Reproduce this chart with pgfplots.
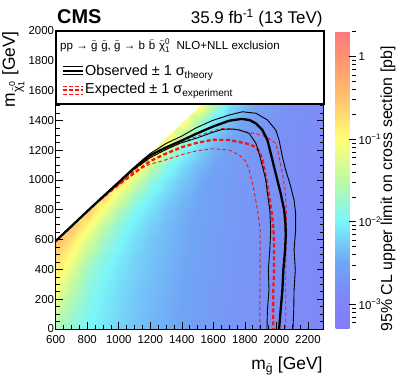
\documentclass[border=0pt]{standalone}
\usepackage{pgfplots}
\pgfplotsset{compat=1.18}
\usepackage{amsmath}
\usepackage{fontspec}
\setmainfont{Liberation Sans}

\definecolor{limred}{RGB}{245,20,20}
\newcommand{\sq}[1]{$\tilde{\text{#1}}$}

\begin{document}
\begin{tikzpicture}
\useasboundingbox (-55.7bp,-54bp) rectangle (343.3bp,329bp);
\begin{axis}[
  name=main, at={(0,0)}, anchor=south west,
  scale only axis, width=268bp, height=298bp,
  xmin=600, xmax=2300, ymin=0, ymax=2000,
  xtick={600,800,...,2200}, ytick={0,200,...,2000},
  minor x tick num=3, minor y tick num=3,
  tick align=inside, major tick length=7bp, minor tick length=4bp,
  tick style={black, line width=0.6bp},
  axis line style={line width=0.8bp},
  ticklabel style={font=\fontsize{11.5}{12}\selectfont},
  /pgf/number format/assume math mode=true,
  /pgf/number format/1000 sep={},
  xticklabel style={yshift=-3bp},
  yticklabel style={inner xsep=1.5bp},
  axis on top,
  % colour scale is log10 of the limit in pb
  colormap={cms}{rgb255(0)=(130,124,250) rgb255(40)=(128,135,248)
    rgb255(80)=(112,165,245) rgb255(130)=(122,245,250)
    rgb255(180)=(190,250,165) rgb255(230)=(255,255,120)
    rgb255(280)=(255,195,110) rgb255(330)=(255,145,110)
    rgb255(361)=(255,120,125)},
  point meta min=-3.30, point meta max=0.31,
  colorbar,
  colorbar style={
    at={(parent axis.north east)}, anchor=north west, xshift=3.3bp,
    width=20bp,
    ytick={-3,-2,-1,0},
    yticklabels={10\textsuperscript{−3},10\textsuperscript{−2},10\textsuperscript{−1},1},
    minor ytick={-3.222,-3.155,-3.097,-3.046,
      -2.699,-2.523,-2.398,-2.301,-2.222,-2.155,-2.097,-2.046,
      -1.699,-1.523,-1.398,-1.301,-1.222,-1.155,-1.097,-1.046,
      -0.699,-0.523,-0.398,-0.301,-0.222,-0.155,-0.097,-0.046,0.301},
    ytick pos=right, yticklabel pos=right,
    tick align=inside, major tick length=7bp, minor tick length=4bp,
    tick style={black, line width=0.6bp},
    axis line style={draw=none},
    yticklabel style={font=\fontsize{11.5}{12}\selectfont, inner xsep=3bp},
  },
]
% upper limit map, log10(sigma/pb), rows m_LSP = 0..1600, columns m_gluino = 600..2300
\addplot[surf, shader=interp, mesh/cols=18, point meta=explicit] coordinates {
(600,0)[-1.65] (700,0)[-1.8] (800,0)[-1.95] (900,0)[-2.08] (1000,0)[-2.2] (1100,0)[-2.3] (1200,0)[-2.38] (1300,0)[-2.45] (1400,0)[-2.52] (1500,0)[-2.58] (1600,0)[-2.63] (1700,0)[-2.68] (1800,0)[-2.72] (1900,0)[-2.76] (2000,0)[-2.8] (2100,0)[-2.84] (2200,0)[-2.87] (2300,0)[-2.9]
(600,100)[-1.45] (700,100)[-1.72] (800,100)[-1.93] (900,100)[-2.07] (1000,100)[-2.19] (1100,100)[-2.29] (1200,100)[-2.37] (1300,100)[-2.44] (1400,100)[-2.51] (1500,100)[-2.57] (1600,100)[-2.63] (1700,100)[-2.68] (1800,100)[-2.72] (1900,100)[-2.76] (2000,100)[-2.8] (2100,100)[-2.84] (2200,100)[-2.87] (2300,100)[-2.9]
(600,200)[-1.2] (700,200)[-1.6] (800,200)[-1.88] (900,200)[-2.05] (1000,200)[-2.17] (1100,200)[-2.28] (1200,200)[-2.36] (1300,200)[-2.43] (1400,200)[-2.5] (1500,200)[-2.57] (1600,200)[-2.62] (1700,200)[-2.67] (1800,200)[-2.71] (1900,200)[-2.75] (2000,200)[-2.79] (2100,200)[-2.83] (2200,200)[-2.87] (2300,200)[-2.9]
(600,300)[-1.0] (700,300)[-1.42] (800,300)[-1.8] (900,300)[-2.0] (1000,300)[-2.15] (1100,300)[-2.26] (1200,300)[-2.34] (1300,300)[-2.42] (1400,300)[-2.49] (1500,300)[-2.56] (1600,300)[-2.62] (1700,300)[-2.67] (1800,300)[-2.71] (1900,300)[-2.75] (2000,300)[-2.79] (2100,300)[-2.83] (2200,300)[-2.86] (2300,300)[-2.89]
(600,400)[-0.82] (700,400)[-1.22] (800,400)[-1.7] (900,400)[-1.95] (1000,400)[-2.1] (1100,400)[-2.23] (1200,400)[-2.32] (1300,400)[-2.41] (1400,400)[-2.48] (1500,400)[-2.55] (1600,400)[-2.61] (1700,400)[-2.66] (1800,400)[-2.7] (1900,400)[-2.75] (2000,400)[-2.79] (2100,400)[-2.83] (2200,400)[-2.86] (2300,400)[-2.89]
(600,500)[-0.65] (700,500)[-1.0] (800,500)[-1.5] (900,500)[-1.85] (1000,500)[-2.05] (1100,500)[-2.2] (1200,500)[-2.3] (1300,500)[-2.39] (1400,500)[-2.47] (1500,500)[-2.54] (1600,500)[-2.6] (1700,500)[-2.65] (1800,500)[-2.7] (1900,500)[-2.74] (2000,500)[-2.78] (2100,500)[-2.82] (2200,500)[-2.86] (2300,500)[-2.89]
(600,600)[-0.4] (700,600)[-0.75] (800,600)[-1.25] (900,600)[-1.68] (1000,600)[-1.97] (1100,600)[-2.15] (1200,600)[-2.28] (1300,600)[-2.38] (1400,600)[-2.46] (1500,600)[-2.53] (1600,600)[-2.59] (1700,600)[-2.65] (1800,600)[-2.69] (1900,600)[-2.74] (2000,600)[-2.78] (2100,600)[-2.82] (2200,600)[-2.85] (2300,600)[-2.88]
(600,700)[-0.4] (700,700)[-0.45] (800,700)[-0.9] (900,700)[-1.45] (1000,700)[-1.85] (1100,700)[-2.07] (1200,700)[-2.22] (1300,700)[-2.36] (1400,700)[-2.45] (1500,700)[-2.52] (1600,700)[-2.58] (1700,700)[-2.64] (1800,700)[-2.69] (1900,700)[-2.73] (2000,700)[-2.77] (2100,700)[-2.82] (2200,700)[-2.85] (2300,700)[-2.88]
(600,800)[-0.4] (700,800)[-0.45] (800,800)[-0.5] (900,800)[-1.05] (1000,800)[-1.6] (1100,800)[-1.95] (1200,800)[-2.13] (1300,800)[-2.3] (1400,800)[-2.43] (1500,800)[-2.51] (1600,800)[-2.57] (1700,800)[-2.63] (1800,800)[-2.68] (1900,800)[-2.73] (2000,800)[-2.77] (2100,800)[-2.81] (2200,800)[-2.85] (2300,800)[-2.88]
(600,900)[-0.4] (700,900)[-0.45] (800,900)[-0.5] (900,900)[-0.55] (1000,900)[-1.2] (1100,900)[-1.72] (1200,900)[-2.0] (1300,900)[-2.2] (1400,900)[-2.37] (1500,900)[-2.5] (1600,900)[-2.57] (1700,900)[-2.62] (1800,900)[-2.68] (1900,900)[-2.72] (2000,900)[-2.77] (2100,900)[-2.81] (2200,900)[-2.84] (2300,900)[-2.87]
(600,1000)[-0.4] (700,1000)[-0.45] (800,1000)[-0.5] (900,1000)[-0.55] (1000,1000)[-0.6] (1100,1000)[-1.3] (1200,1000)[-1.8] (1300,1000)[-2.07] (1400,1000)[-2.28] (1500,1000)[-2.44] (1600,1000)[-2.56] (1700,1000)[-2.62] (1800,1000)[-2.67] (1900,1000)[-2.72] (2000,1000)[-2.76] (2100,1000)[-2.8] (2200,1000)[-2.84] (2300,1000)[-2.87]
(600,1100)[-0.4] (700,1100)[-0.45] (800,1100)[-0.5] (900,1100)[-0.55] (1000,1100)[-0.6] (1100,1100)[-0.65] (1200,1100)[-1.38] (1300,1100)[-1.87] (1400,1100)[-2.14] (1500,1100)[-2.35] (1600,1100)[-2.5] (1700,1100)[-2.61] (1800,1100)[-2.67] (1900,1100)[-2.71] (2000,1100)[-2.76] (2100,1100)[-2.8] (2200,1100)[-2.84] (2300,1100)[-2.87]
(600,1200)[-0.4] (700,1200)[-0.45] (800,1200)[-0.5] (900,1200)[-0.55] (1000,1200)[-0.6] (1100,1200)[-0.65] (1200,1200)[-0.7] (1300,1200)[-1.45] (1400,1200)[-1.93] (1500,1200)[-2.2] (1600,1200)[-2.41] (1700,1200)[-2.55] (1800,1200)[-2.66] (1900,1200)[-2.71] (2000,1200)[-2.75] (2100,1200)[-2.8] (2200,1200)[-2.83] (2300,1200)[-2.86]
(600,1300)[-0.4] (700,1300)[-0.45] (800,1300)[-0.5] (900,1300)[-0.55] (1000,1300)[-0.6] (1100,1300)[-0.65] (1200,1300)[-0.7] (1300,1300)[-0.75] (1400,1300)[-1.5] (1500,1300)[-2.0] (1600,1300)[-2.27] (1700,1300)[-2.46] (1800,1300)[-2.6] (1900,1300)[-2.7] (2000,1300)[-2.75] (2100,1300)[-2.79] (2200,1300)[-2.83] (2300,1300)[-2.86]
(600,1400)[-0.4] (700,1400)[-0.45] (800,1400)[-0.5] (900,1400)[-0.55] (1000,1400)[-0.6] (1100,1400)[-0.65] (1200,1400)[-0.7] (1300,1400)[-0.75] (1400,1400)[-0.8] (1500,1400)[-1.56] (1600,1400)[-2.06] (1700,1400)[-2.32] (1800,1400)[-2.52] (1900,1400)[-2.64] (2000,1400)[-2.74] (2100,1400)[-2.79] (2200,1400)[-2.82] (2300,1400)[-2.86]
(600,1500)[-0.4] (700,1500)[-0.45] (800,1500)[-0.5] (900,1500)[-0.55] (1000,1500)[-0.6] (1100,1500)[-0.65] (1200,1500)[-0.7] (1300,1500)[-0.75] (1400,1500)[-0.8] (1500,1500)[-0.85] (1600,1500)[-1.62] (1700,1500)[-2.12] (1800,1500)[-2.38] (1900,1500)[-2.56] (2000,1500)[-2.68] (2100,1500)[-2.78] (2200,1500)[-2.82] (2300,1500)[-2.85]
(600,1600)[-0.4] (700,1600)[-0.45] (800,1600)[-0.5] (900,1600)[-0.55] (1000,1600)[-0.6] (1100,1600)[-0.65] (1200,1600)[-0.7] (1300,1600)[-0.75] (1400,1600)[-0.8] (1500,1600)[-0.85] (1600,1600)[-0.9] (1700,1600)[-1.68] (1800,1600)[-2.18] (1900,1600)[-2.43] (2000,1600)[-2.6] (2100,1600)[-2.72] (2200,1600)[-2.81] (2300,1600)[-2.85]
};
% kinematically forbidden region
\addplot[draw=none, fill=white] coordinates {(600,580) (2020,2000) (600,2000)};

% expected, -1 sigma experiment
\addplot[limred, line width=0.9bp, dash pattern=on 3.5bp off 2.5bp] coordinates {
(930,915) (1000,970) (1090,1052) (1196,1105) (1301,1136) (1406,1172) (1491,1195)
(1596,1210) (1701,1201) (1764,1168) (1806,1123) (1827,1067) (1848,978) (1865,888)
(1880,799) (1897,664) (1897,441) (1895,217) (1895,0)};
% expected, +1 sigma experiment
\addplot[limred, line width=0.9bp, dash pattern=on 3.5bp off 2.5bp] coordinates {
(900,888) (1000,982) (1100,1068) (1200,1150) (1300,1205) (1400,1252) (1500,1295)
(1600,1330) (1659,1346) (1730,1342) (1806,1324) (1870,1310) (1933,1291) (1996,1246)
(2017,1156) (2038,1045) (2055,933) (2063,799) (2063,664) (2060,500) (2059,329) (2059,0)};
% expected
\addplot[limred, line width=2.3bp, dash pattern=on 4bp off 2.5bp] coordinates {
(880,868) (950,928) (1006,975) (1090,1040) (1196,1125) (1301,1178) (1406,1222)
(1491,1248) (1596,1270) (1701,1268) (1806,1246) (1870,1222) (1895,1185) (1912,1134)
(1929,1045) (1943,955) (1958,866) (1971,776) (1982,664) (1985,530) (1985,396)
(1980,262) (1979,128) (1981,0)};
% observed, -1 sigma theory
\addplot[black, line width=0.9bp, line join=round] coordinates {
(900,887) (1000,984) (1090,1068) (1150,1112) (1200,1150) (1300,1205) (1385,1245)
(1491,1280) (1596,1320) (1659,1340) (1720,1342) (1764,1336) (1827,1313) (1870,1246)
(1890,1179) (1912,1089) (1933,1000) (1943,911) (1958,799) (1964,664) (1958,530)
(1949,396) (1953,262) (1943,128) (1940,0)};
% observed, +1 sigma theory
\addplot[black, line width=0.9bp, line join=round] coordinates {
(900,888) (1000,986) (1090,1077) (1150,1135) (1200,1178) (1300,1245) (1400,1295)
(1491,1350) (1596,1400) (1701,1436) (1785,1458) (1870,1448) (1943,1403) (1996,1336)
(2017,1268) (2038,1156) (2059,1067) (2091,955) (2112,866) (2122,776) (2122,664)
(2112,530) (2120,396) (2112,262) (2110,128) (2105,0)};
% observed
\addplot[black, line width=2.3bp, line join=round] coordinates {
(600,590) (700,690) (800,790) (900,888) (1000,985) (1090,1073) (1150,1125)
(1200,1165) (1260,1198) (1320,1228) (1400,1265) (1491,1310) (1596,1358) (1701,1398)
(1780,1410) (1830,1402) (1870,1380) (1910,1338) (1943,1268) (1964,1179) (1985,1089)
(2006,1000) (2027,911) (2049,799) (2058,700) (2059,620) (2055,530) (2044,396)
(2038,262) (2027,128) (2017,0)};
\end{axis}

% legend box
\draw[line width=1.6bp, fill=white] (0,225bp) rectangle (268bp,298bp);
\node[anchor=base west, inner sep=0pt, font=\fontsize{11.6}{13}\selectfont]
  at (4.3bp,279bp) {pp → \sq{g}\,\,\sq{g}, \sq{g} → b\,\,$\bar{\text{b}}$\,\,$\tilde{\text{χ}}^{\text{0}}_{\text{1}}$\ \ NLO+NLL exclusion};
\draw[line width=0.9bp] (7.3bp,262.3bp) -- ++(20bp,0) (7.3bp,254.3bp) -- ++(20bp,0);
\draw[line width=2.3bp] (7.3bp,258.3bp) -- ++(20bp,0);
\draw[limred, line width=0.9bp, dash pattern=on 3.5bp off 2.5bp] (7.3bp,243bp) -- ++(20bp,0) (7.3bp,234.7bp) -- ++(20bp,0);
\draw[limred, line width=2.3bp, dash pattern=on 3.5bp off 2.5bp] (7.3bp,239bp) -- ++(20bp,0);
\node[anchor=base west, inner sep=0pt, font=\fontsize{14.5}{16}\selectfont]
  at (29.3bp,253.3bp) {Observed ± 1 σ$_{\text{theory}}$};
\node[anchor=base west, inner sep=0pt, font=\fontsize{14.5}{16}\selectfont]
  at (29.3bp,235bp) {Expected ± 1 σ$_{\text{experiment}}$};

% titles and axis labels
\node[anchor=base west, inner sep=0pt, font=\fontsize{20}{22}\selectfont\bfseries]
  at (1.3bp,305.5bp) {CMS};
\node[anchor=base east, inner sep=0pt, font=\fontsize{17}{19}\selectfont]
  at (267bp,305.5bp) {35.9 fb\textsuperscript{-1} (13 TeV)};
\node[anchor=base east, inner sep=0pt, font=\fontsize{17.5}{19}\selectfont]
  at (267bp,-40bp) {m$_{\tilde{\text{g}}}$ [GeV]};
\node[rotate=90, anchor=base east, inner sep=0pt, font=\fontsize{17.5}{19}\selectfont]
  at (-40.7bp,298bp) {m$_{\tilde{\text{χ}}^{\text{0}}_{\text{1}}}$ [GeV]};
\node[rotate=90, anchor=base, inner sep=0pt, font=\fontsize{16}{18}\selectfont]
  at (336.3bp,140bp) {95\% CL upper limit on cross section [pb]};
\end{tikzpicture}
\end{document}
